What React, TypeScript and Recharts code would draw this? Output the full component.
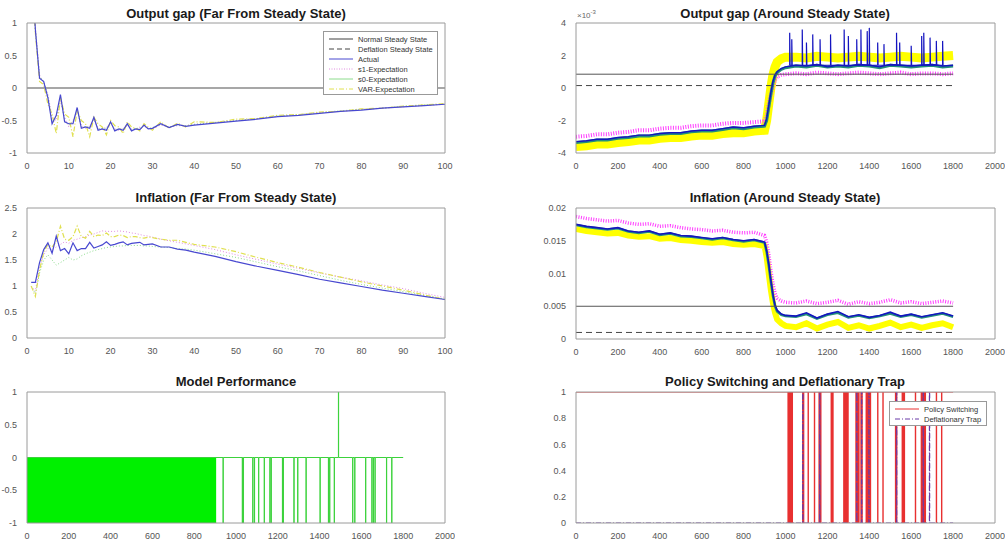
import { Area, ComposedChart, Line, XAxis, YAxis } from 'recharts'

// ---- far from steady state (periods 1..100) ----
const FAR_X = [1, 2, 3, 4, 5, 6, 7, 8, 9, 10, 11, 12, 13, 14, 15, 16, 17, 18, 19, 20, 21, 22, 23, 24, 25, 26, 27, 28, 29, 30, 32, 34, 36, 38, 40, 45, 50, 55, 60, 65, 70, 75, 80, 85, 90, 95, 100]

const GAP_FAR_ACTUAL = [2.0, 0.9, 0.15, 0.1, -0.15, -0.55, -0.42, -0.1, -0.52, -0.55, -0.55, -0.3, -0.62, -0.6, -0.62, -0.45, -0.65, -0.63, -0.65, -0.52, -0.66, -0.63, -0.65, -0.55, -0.66, -0.63, -0.64, -0.57, -0.63, -0.62, -0.55, -0.61, -0.56, -0.59, -0.57, -0.54, -0.51, -0.48, -0.44, -0.42, -0.39, -0.36, -0.34, -0.31, -0.29, -0.27, -0.25]
const GAP_FAR_S1 = [1.9, 0.95, 0.2, 0.08, -0.1, -0.45, -0.5, -0.2, -0.45, -0.6, -0.5, -0.35, -0.58, -0.62, -0.58, -0.48, -0.62, -0.64, -0.6, -0.55, -0.63, -0.65, -0.62, -0.58, -0.63, -0.64, -0.6, -0.59, -0.62, -0.63, -0.57, -0.6, -0.58, -0.58, -0.56, -0.53, -0.5, -0.47, -0.44, -0.41, -0.38, -0.36, -0.33, -0.31, -0.29, -0.27, -0.25]
const GAP_FAR_S0 = [1.85, 0.9, 0.18, 0.1, -0.12, -0.5, -0.45, -0.15, -0.5, -0.57, -0.52, -0.33, -0.6, -0.6, -0.6, -0.47, -0.63, -0.62, -0.62, -0.54, -0.64, -0.63, -0.63, -0.57, -0.64, -0.62, -0.62, -0.58, -0.62, -0.61, -0.56, -0.6, -0.57, -0.58, -0.56, -0.53, -0.5, -0.47, -0.43, -0.41, -0.38, -0.35, -0.33, -0.31, -0.28, -0.26, -0.25]
const GAP_FAR_VAR = [1.8, 0.85, 0.1, 0.05, -0.25, -0.4, -0.7, -0.15, -0.4, -0.45, -0.75, -0.35, -0.5, -0.55, -0.75, -0.45, -0.55, -0.6, -0.72, -0.5, -0.58, -0.6, -0.7, -0.52, -0.6, -0.62, -0.66, -0.55, -0.6, -0.65, -0.52, -0.62, -0.54, -0.6, -0.52, -0.53, -0.48, -0.47, -0.42, -0.41, -0.37, -0.36, -0.32, -0.31, -0.28, -0.26, -0.24]

const INF_FAR_ACTUAL = [1.07, 1.07, 1.45, 1.7, 1.83, 1.63, 1.96, 1.68, 1.72, 1.62, 1.83, 1.68, 1.72, 1.72, 1.84, 1.73, 1.76, 1.79, 1.85, 1.78, 1.8, 1.83, 1.85, 1.79, 1.82, 1.83, 1.84, 1.79, 1.8, 1.81, 1.75, 1.75, 1.71, 1.69, 1.65, 1.57, 1.47, 1.38, 1.3, 1.22, 1.13, 1.06, 0.99, 0.92, 0.86, 0.8, 0.74]
const INF_FAR_S1 = [1.0, 0.9, 1.35, 1.6, 1.72, 1.7, 1.75, 1.8, 1.85, 1.82, 1.88, 1.9, 1.93, 1.95, 1.98, 2.0, 2.03, 2.06, 2.05, 2.05, 2.05, 2.06, 2.05, 2.04, 2.02, 2.01, 1.99, 1.97, 1.96, 1.94, 1.9, 1.87, 1.84, 1.81, 1.78, 1.7, 1.6, 1.51, 1.42, 1.34, 1.25, 1.17, 1.1, 1.02, 0.95, 0.86, 0.78]
const INF_FAR_S0 = [1.0, 0.85, 1.25, 1.5, 1.6, 1.5, 1.4, 1.45, 1.5, 1.55, 1.5, 1.52, 1.58, 1.62, 1.65, 1.68, 1.7, 1.72, 1.74, 1.75, 1.76, 1.77, 1.77, 1.78, 1.78, 1.78, 1.78, 1.77, 1.77, 1.76, 1.75, 1.74, 1.72, 1.71, 1.69, 1.62, 1.55, 1.46, 1.37, 1.29, 1.2, 1.11, 1.03, 0.96, 0.89, 0.82, 0.75]
const INF_FAR_VAR = [1.0, 0.8, 1.3, 1.65, 1.8, 1.75, 1.85, 2.15, 1.9, 1.88, 1.95, 2.15, 1.95, 1.92, 2.05, 1.95, 1.98, 1.97, 2.02, 1.95, 1.95, 1.98, 1.97, 1.93, 1.95, 1.95, 1.93, 1.92, 1.94, 1.93, 1.9, 1.88, 1.88, 1.84, 1.8, 1.75, 1.66, 1.55, 1.45, 1.36, 1.26, 1.17, 1.08, 1.0, 0.92, 0.83, 0.74]

// ---- around steady state (periods 0..1800) ----
const NEAR_X = [0, 50, 100, 150, 200, 250, 300, 350, 400, 450, 500, 550, 600, 650, 700, 750, 800, 850, 900, 910, 920, 930, 940, 950, 960, 980, 1000, 1050, 1100, 1150, 1200, 1250, 1300, 1350, 1400, 1450, 1500, 1550, 1600, 1650, 1700, 1750, 1800]

// output gap, in units of 1e-3
const GAP_NORMAL_SS = 0.85
const GAP_DEFLATION_SS = 0.15
const GAP_NEAR_ACTUAL = [-3.3, -3.25, -3.15, -3.15, -3.05, -3.0, -2.9, -2.9, -2.8, -2.75, -2.75, -2.65, -2.6, -2.6, -2.5, -2.4, -2.45, -2.35, -2.3, -1.9, -1.1, -0.3, 0.4, 0.8, 1.0, 1.2, 1.3, 1.4, 1.35, 1.45, 1.3, 1.4, 1.35, 1.45, 1.4, 1.3, 1.45, 1.4, 1.35, 1.4, 1.45, 1.35, 1.4]
const GAP_NEAR_S0 = [-3.35, -3.3, -3.2, -3.2, -3.1, -3.05, -2.95, -2.95, -2.85, -2.8, -2.8, -2.7, -2.65, -2.65, -2.55, -2.45, -2.5, -2.4, -2.35, -2.0, -1.2, -0.4, 0.3, 0.75, 0.95, 1.15, 1.25, 1.35, 1.3, 1.4, 1.3, 1.35, 1.3, 1.4, 1.35, 1.25, 1.4, 1.35, 1.3, 1.35, 1.4, 1.3, 1.35]
const GAP_NEAR_S1 = [-3.0, -2.95, -2.85, -2.85, -2.75, -2.7, -2.6, -2.6, -2.5, -2.45, -2.45, -2.35, -2.3, -2.3, -2.2, -2.15, -2.15, -2.1, -2.05, -1.7, -1.0, -0.4, 0.1, 0.5, 0.7, 0.8, 0.85, 0.9, 0.85, 0.95, 0.9, 0.85, 0.9, 0.95, 0.9, 0.85, 0.9, 0.95, 0.85, 0.9, 0.9, 0.85, 0.9]
const GAP_NEAR_VAR = [-3.6, -3.55, -3.45, -3.45, -3.35, -3.3, -3.2, -3.2, -3.1, -3.05, -3.05, -2.95, -2.9, -2.9, -2.8, -2.75, -2.75, -2.65, -2.6, -2.0, -1.0, 0.0, 0.8, 1.3, 1.6, 1.8, 1.9, 1.9, 1.85, 1.95, 1.9, 1.85, 1.9, 1.95, 1.9, 1.85, 1.9, 1.95, 1.9, 1.85, 1.9, 1.95, 2.0]
const GAP_SPIKE_X = [1020, 1030, 1080, 1100, 1130, 1165, 1215, 1280, 1300, 1340, 1360, 1390, 1400, 1440, 1470, 1530, 1545, 1600, 1650, 1660, 1690, 1720, 1750]
const GAP_SPIKE_TOP = [3.4, 3.0, 3.6, 2.8, 3.3, 3.0, 3.3, 3.6, 3.2, 3.0, 3.6, 3.5, 3.7, 2.8, 2.7, 3.4, 2.8, 2.6, 3.2, 3.4, 3.1, 2.9, 2.9]
const GAP_SPIKE_BASE = 1.4

const INF_NORMAL_SS = 0.005
const INF_DEFLATION_SS = 0.001
const INF_NEAR_ACTUAL = [0.0175, 0.0172, 0.017, 0.0168, 0.017, 0.0165, 0.0163, 0.0165, 0.016, 0.0162, 0.0158, 0.0157, 0.0155, 0.0153, 0.0155, 0.0152, 0.015, 0.0152, 0.0148, 0.0135, 0.0115, 0.009, 0.0068, 0.0052, 0.0044, 0.0038, 0.0036, 0.0035, 0.004, 0.0032, 0.0038, 0.0042, 0.0034, 0.0037, 0.0033, 0.0036, 0.0041, 0.0035, 0.0038, 0.0034, 0.0037, 0.004, 0.0035]
const INF_NEAR_S0 = [0.0174, 0.0171, 0.0169, 0.0167, 0.0169, 0.0164, 0.0162, 0.0164, 0.0159, 0.0161, 0.0157, 0.0156, 0.0154, 0.0152, 0.0154, 0.0151, 0.0149, 0.0151, 0.0147, 0.0133, 0.0112, 0.0088, 0.0066, 0.005, 0.0042, 0.0037, 0.0035, 0.0034, 0.0038, 0.0031, 0.0037, 0.004, 0.0033, 0.0036, 0.0032, 0.0035, 0.0039, 0.0034, 0.0037, 0.0033, 0.0036, 0.0039, 0.0034]
const INF_NEAR_S1 = [0.0187, 0.0184, 0.0182, 0.018, 0.0181, 0.0177, 0.0175, 0.0176, 0.0172, 0.0173, 0.017, 0.0168, 0.0167, 0.0165, 0.0166, 0.0163, 0.0162, 0.0163, 0.0158, 0.0148, 0.013, 0.0105, 0.0085, 0.007, 0.0062, 0.0058, 0.0056, 0.0055, 0.0058, 0.0054, 0.0056, 0.0059, 0.0053, 0.0057, 0.0054, 0.0056, 0.006, 0.0055, 0.0057, 0.0054, 0.0056, 0.0058, 0.0055]
const INF_NEAR_VAR = [0.0168, 0.0165, 0.0163, 0.0161, 0.0162, 0.0158, 0.0156, 0.0157, 0.0153, 0.0154, 0.0151, 0.015, 0.0148, 0.0147, 0.0148, 0.0145, 0.0144, 0.0145, 0.0142, 0.0125, 0.01, 0.0075, 0.0055, 0.004, 0.003, 0.0024, 0.002, 0.0018, 0.0024, 0.0016, 0.0022, 0.0026, 0.0017, 0.0021, 0.0016, 0.002, 0.0025, 0.0018, 0.0022, 0.0017, 0.0021, 0.0024, 0.0018]

// ---- model performance / regimes ----
const PERF_BLOCK_END = 905
const PERF_EVENT_X = [938, 1030, 1035, 1080, 1088, 1108, 1135, 1162, 1168, 1222, 1226, 1277, 1295, 1335, 1402, 1442, 1448, 1470, 1490, 1558, 1568, 1620, 1650, 1657, 1665, 1720, 1745]
const PERF_EVENT_Y = [-1, -1, -1, -1, -1, -1, -1, -1, -1, -1, -1, -1, -1, -1, -1, -1, -1, -1, 1, -1, -1, -1, -1, -1, -1, -1, -1]
const SWITCH_X = [1012, 1016, 1020, 1024, 1028, 1032, 1082, 1086, 1108, 1138, 1160, 1164, 1168, 1218, 1222, 1226, 1278, 1282, 1286, 1292, 1298, 1336, 1340, 1345, 1350, 1360, 1365, 1385, 1390, 1395, 1400, 1405, 1440, 1465, 1525, 1530, 1557, 1562, 1567, 1620, 1648, 1652, 1657, 1662, 1667, 1720, 1745]
const TRAP_X = [1082, 1163, 1340, 1363, 1398, 1530, 1657, 1687]
const SIM_END = 1800

const FAR_TICKS = [0, 10, 20, 30, 40, 50, 60, 70, 80, 90, 100]
const NEAR_TICKS = [0, 200, 400, 600, 800, 1000, 1200, 1400, 1600, 1800, 2000]

const zip = (xs: number[], ys: number[]) => xs.map((x, i) => ({ x, y: ys[i] }))
const flat = (y: number, end: number) => [{ x: 0, y }, { x: end, y }]
const spikes = (xs: number[], tops: number[], base: number) =>
  xs.flatMap((x, i) => [{ x, y: base }, { x, y: tops[i] }, { x: x + 2, y: base }])
const pulses = (xs: number[], ys: number[] | number, level: number, end: number) => [
  { x: 0, y: level },
  ...xs.flatMap((x, i) => {
    const v = Array.isArray(ys) ? ys[i] : ys
    return [{ x, y: level }, { x, y: v }, { x: x + 1, y: v }, { x: x + 1, y: level }]
  }),
  { x: end, y: level },
]

const FONT = '"Liberation Sans", Arial, sans-serif'
const AXIS = '#9a9a9a'
const tickStyle = { fontSize: 9, fill: '#555', fontFamily: FONT }

// MATLAB-like box: labelled bottom/left axes plus inward ticks on all four sides
function frame(xDomain: number[], xTicks: number[], yDomain: number[], yTicks: number[]) {
  const common = { type: 'number' as const, allowDataOverflow: true }
  return [
    <XAxis key="b" xAxisId="b" dataKey="x" {...common} domain={xDomain} ticks={xTicks} height={1} interval={0}
      stroke={AXIS} tickLine={false} tickMargin={4} tick={tickStyle} />,
    <XAxis key="bi" xAxisId="bi" dataKey="x" {...common} domain={xDomain} ticks={xTicks} mirror height={1} interval={0}
      stroke={AXIS} axisLine={false} tick={false} tickSize={4} />,
    <XAxis key="t" xAxisId="t" orientation="top" dataKey="x" {...common} domain={xDomain} ticks={xTicks} mirror height={1}
      interval={0} stroke={AXIS} tick={false} tickSize={4} />,
    <YAxis key="l" yAxisId="l" {...common} domain={yDomain} ticks={yTicks} width={1} interval={0}
      stroke={AXIS} tickLine={false} tickMargin={4} tick={tickStyle} />,
    <YAxis key="li" yAxisId="li" {...common} domain={yDomain} ticks={yTicks} mirror width={1} interval={0}
      stroke={AXIS} axisLine={false} tick={false} tickSize={4} />,
    <YAxis key="r" yAxisId="r" orientation="right" {...common} domain={yDomain} ticks={yTicks} mirror width={1}
      interval={0} stroke={AXIS} tick={false} tickSize={4} />,
  ]
}

type LineSpec = { data: { x: number; y: number }[]; color: string; width?: number; dash?: string }

const series = (key: string, s: LineSpec) => (
  <Line key={key} xAxisId="b" yAxisId="l" data={s.data} dataKey="y" type="linear" dot={false} activeDot={false}
    stroke={s.color} strokeWidth={s.width ?? 1} strokeDasharray={s.dash} isAnimationActive={false} />
)

const Title = ({ text, cx, cy }: { text: string; cx: number; cy: number }) => (
  <div style={{ position: 'absolute', left: cx - 200, top: cy - 8, width: 400, textAlign: 'center', fontFamily: FONT,
    fontWeight: 'bold', fontSize: 13, color: '#1a1a1a', lineHeight: '16px', whiteSpace: 'nowrap' }}>{text}</div>
)

const Panel = ({ left, top, width, height, margin, children }: any) => (
  <div style={{ position: 'absolute', left, top }}>
    <ComposedChart width={width} height={height} margin={margin}>
      {children}
    </ComposedChart>
  </div>
)

const LegendRow = ({ color, dash, label, width }: { color: string; dash?: string; label: string; width?: number }) => (
  <div style={{ display: 'flex', alignItems: 'center', height: 10 }}>
    <svg width={26} height={8} style={{ marginRight: 4 }}>
      <line x1={1} y1={4} x2={25} y2={4} stroke={color} strokeWidth={width ?? 1} strokeDasharray={dash} />
    </svg>
    <span>{label}</span>
  </div>
)

const FAR_COLORS = { actual: '#4848d0', s1: '#e08ce0', s0: '#8cdc8c', var: '#e0e050' }
const NEAR_COLORS = { actual: '#1414c0', s1: '#ff3cff', s0: '#23907a', var: '#ffff00' }

export default function App() {
  // plot boxes: left column x 27..445, right column x 576..995
  const farMargin = { top: 23, right: 10, bottom: 16, left: 26 }
  const nearMargin = { top: 23, right: 10, bottom: 16, left: 35 }
  return (
    <div style={{ position: 'absolute', left: 0, top: 0, width: 1005, height: 541, background: '#fff', overflow: 'hidden' }}>
      {/* top left */}
      <Panel left={0} top={0} width={455} height={170} margin={farMargin}>
        {frame([0, 100], FAR_TICKS, [-1, 1], [-1, -0.5, 0, 0.5, 1])}
        {series('ss', { data: flat(0, 100), color: '#8a8a8a', width: 1.6 })}
        {series('s1', { data: zip(FAR_X, GAP_FAR_S1), color: FAR_COLORS.s1, dash: '1 2' })}
        {series('s0', { data: zip(FAR_X, GAP_FAR_S0), color: FAR_COLORS.s0, dash: '1 2' })}
        {series('var', { data: zip(FAR_X, GAP_FAR_VAR), color: FAR_COLORS.var, dash: '5 2 1 2', width: 1.2 })}
        {series('act', { data: zip(FAR_X, GAP_FAR_ACTUAL), color: FAR_COLORS.actual, width: 1.2 })}
      </Panel>
      <Title text="Output gap (Far From Steady State)" cx={236} cy={14} />
      <div style={{ position: 'absolute', left: 323, top: 31, width: 115, height: 64, border: '1px solid #999',
        background: '#fff', fontFamily: FONT, fontSize: 7.5, color: '#333', padding: '2px 0 0 4px', boxSizing: 'border-box' }}>
        <LegendRow color="#777" label="Normal Steady State" width={1.4} />
        <LegendRow color="#444" dash="5 3" label="Deflation Steady State" />
        <LegendRow color={FAR_COLORS.actual} label="Actual" />
        <LegendRow color={FAR_COLORS.s1} dash="1 1.5" label="s1-Expectation" />
        <LegendRow color={FAR_COLORS.s0} label="s0-Expectation" />
        <LegendRow color={FAR_COLORS.var} dash="5 2 1 2" label="VAR-Expectation" />
      </div>

      {/* top right */}
      <Panel left={540} top={0} width={465} height={170} margin={nearMargin}>
        {frame([0, 2000], NEAR_TICKS, [-4, 4], [-4, -2, 0, 2, 4])}
        {series('var', { data: zip(NEAR_X, GAP_NEAR_VAR), color: NEAR_COLORS.var, width: 9 })}
        {series('s1', { data: zip(NEAR_X, GAP_NEAR_S1), color: NEAR_COLORS.s1, width: 4, dash: '1 1.5' })}
        {series('s0', { data: zip(NEAR_X, GAP_NEAR_S0), color: NEAR_COLORS.s0, width: 3 })}
        {series('act', { data: zip(NEAR_X, GAP_NEAR_ACTUAL), color: NEAR_COLORS.actual, width: 1.4 })}
        {series('spk', { data: spikes(GAP_SPIKE_X, GAP_SPIKE_TOP, GAP_SPIKE_BASE), color: NEAR_COLORS.actual, width: 1.2 })}
        {series('nss', { data: flat(GAP_NORMAL_SS, SIM_END), color: '#555' })}
        {series('dss', { data: flat(GAP_DEFLATION_SS, SIM_END), color: '#444', dash: '6 4' })}
      </Panel>
      <Title text="Output gap (Around Steady State)" cx={785} cy={14} />
      <div style={{ position: 'absolute', left: 577, top: 9, fontFamily: FONT, fontSize: 8, color: '#666' }}>
        ×10<sup style={{ fontSize: 6 }}>-3</sup>
      </div>

      {/* middle left */}
      <Panel left={0} top={180} width={455} height={180} margin={{ top: 28, right: 10, bottom: 21, left: 26 }}>
        {frame([0, 100], FAR_TICKS, [0, 2.5], [0, 0.5, 1, 1.5, 2, 2.5])}
        {series('s1', { data: zip(FAR_X, INF_FAR_S1), color: FAR_COLORS.s1, dash: '1 2' })}
        {series('s0', { data: zip(FAR_X, INF_FAR_S0), color: FAR_COLORS.s0, dash: '1 2' })}
        {series('var', { data: zip(FAR_X, INF_FAR_VAR), color: FAR_COLORS.var, dash: '5 2 1 2', width: 1.2 })}
        {series('act', { data: zip(FAR_X, INF_FAR_ACTUAL), color: FAR_COLORS.actual, width: 1.2 })}
      </Panel>
      <Title text="Inflation (Far From Steady State)" cx={236} cy={198} />

      {/* middle right */}
      <Panel left={540} top={180} width={465} height={180} margin={{ top: 28, right: 10, bottom: 20, left: 35 }}>
        {frame([0, 2000], NEAR_TICKS, [0, 0.02], [0, 0.005, 0.01, 0.015, 0.02])}
        {series('var', { data: zip(NEAR_X, INF_NEAR_VAR), color: NEAR_COLORS.var, width: 6 })}
        {series('s1', { data: zip(NEAR_X, INF_NEAR_S1), color: NEAR_COLORS.s1, width: 3.5, dash: '1 1.5' })}
        {series('s0', { data: zip(NEAR_X, INF_NEAR_S0), color: NEAR_COLORS.s0, width: 2.5 })}
        {series('act', { data: zip(NEAR_X, INF_NEAR_ACTUAL), color: NEAR_COLORS.actual, width: 1.6 })}
        {series('nss', { data: flat(INF_NORMAL_SS, SIM_END), color: '#555' })}
        {series('dss', { data: flat(INF_DEFLATION_SS, SIM_END), color: '#444', dash: '6 4' })}
      </Panel>
      <Title text="Inflation (Around Steady State)" cx={785} cy={198} />

      {/* bottom left */}
      <Panel left={0} top={360} width={455} height={181} margin={{ top: 32, right: 10, bottom: 17, left: 26 }}>
        {frame([0, 2000], NEAR_TICKS, [-1, 1], [-1, -0.5, 0, 0.5, 1])}
        <Area xAxisId="b" yAxisId="l" data={[{ x: 0, y: -1 }, { x: PERF_BLOCK_END, y: -1 }]} dataKey="y" baseValue={0}
          type="linear" stroke="#00e600" strokeWidth={1} fill="#00f000" fillOpacity={1} dot={false} activeDot={false}
          isAnimationActive={false} />
        {series('perf', { data: pulses(PERF_EVENT_X, PERF_EVENT_Y, 0, SIM_END), color: '#3cd23c', width: 1 })}
      </Panel>
      <Title text="Model Performance" cx={236} cy={382} />

      {/* bottom right */}
      <Panel left={540} top={360} width={465} height={181} margin={{ top: 32, right: 10, bottom: 17, left: 35 }}>
        {frame([0, 2000], NEAR_TICKS, [0, 1], [0, 0.2, 0.4, 0.6, 0.8, 1])}
        {series('pol', { data: pulses(SWITCH_X, 0, 1, SIM_END), color: '#e83030', width: 1.2 })}
        {series('trap', { data: pulses(TRAP_X, 1, 0, SIM_END), color: '#6a3aa8', width: 1.2, dash: '5 2 1 2' })}
      </Panel>
      <Title text="Policy Switching and Deflationary Trap" cx={785} cy={382} />
      <div style={{ position: 'absolute', left: 889, top: 401, width: 98, height: 25, border: '1px solid #999',
        background: '#fff', fontFamily: FONT, fontSize: 7.5, color: '#333', padding: '2px 0 0 4px', boxSizing: 'border-box' }}>
        <LegendRow color="#e83030" label="Policy Switching" />
        <LegendRow color="#6a3aa8" dash="5 2 1 2" label="Deflationary Trap" />
      </div>
    </div>
  )
}
